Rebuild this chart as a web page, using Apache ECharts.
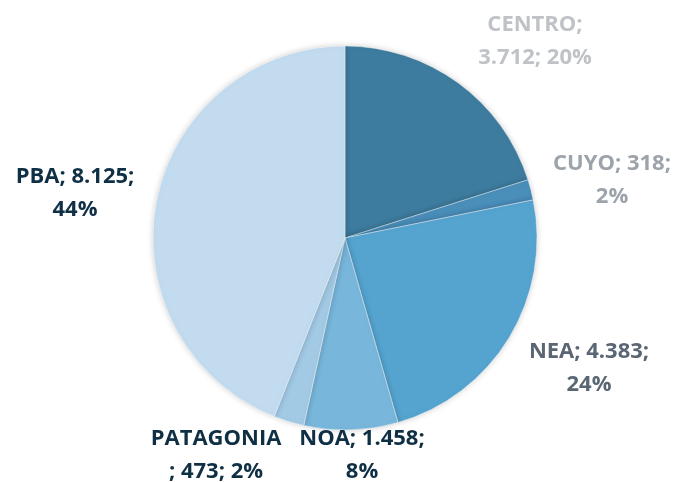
<!DOCTYPE html>
<html>
<head>
<meta charset="utf-8">
<script src="https://cdn.jsdelivr.net/npm/echarts@6/dist/echarts.min.js"></script>
<style>
  html, body { margin: 0; padding: 0; background: #fff; }
  #chart { width: 677px; height: 482px; }
</style>
</head>
<body>
<div id="chart"></div>
<script>
// datos por región
const regions = ["CENTRO", "CUYO", "NEA", "NOA", "PATAGONIA", "PBA"];
const values = [3712, 318, 4383, 1458, 473, 8125];
const percents = [20, 2, 24, 8, 2, 44];

const sliceColors = ["#3e7c9f", "#4a8eba", "#55a4cf", "#78b6db", "#a2cae5", "#c3dbee"];
const labelColors = ["#bfc3c7", "#9ca3aa", "#5a6673", "#0f2f45", "#0f2f45", "#0f2f45"];
// posición de las etiquetas (centro del bloque de texto)
const labelPos = [[535, 41], [612, 180], [589, 368], [362, 455], [216, 455], [75, 193]];

const fmtNum = (v) => String(v).replace(/\B(?=(\d{3})+(?!\d))/g, ".");

const chart = echarts.init(document.getElementById("chart"));
chart.setOption({
  animation: false,
  series: [
    {
      type: "pie",
      center: [345, 238],
      radius: 192,
      startAngle: 90,
      clockwise: true,
      itemStyle: {
        borderColor: "#ffffff",
        borderWidth: 0.4,
        shadowBlur: 6,
        shadowColor: "rgba(0,0,0,0.2)",
      },
      label: {
        show: true,
        position: "outside",
        fontFamily: "Open Sans",
        fontWeight: "bold",
        fontSize: 22,
        lineHeight: 33,
        align: "center",
        overflow: "none",
        formatter: (p) => {
          const i = p.dataIndex;
          const n = fmtNum(values[i]);
          if (regions[i] === "CENTRO") return regions[i] + ";\n" + n + "; " + percents[i] + "%";
          if (regions[i] === "PATAGONIA") return regions[i] + "\n; " + n + "; " + percents[i] + "%";
          return regions[i] + "; " + n + ";\n" + percents[i] + "%";
        },
      },
      labelLine: { show: false },
      labelLayout: (p) => ({
        x: labelPos[p.dataIndex][0],
        y: labelPos[p.dataIndex][1],
        align: "center",
        verticalAlign: "middle",
        width: 300,
      }),
      data: regions.map((r, i) => ({
        name: r,
        value: values[i],
        itemStyle: { color: sliceColors[i] },
        label: { color: labelColors[i] },
      })),
    },
  ],
});
</script>
</body>
</html>
